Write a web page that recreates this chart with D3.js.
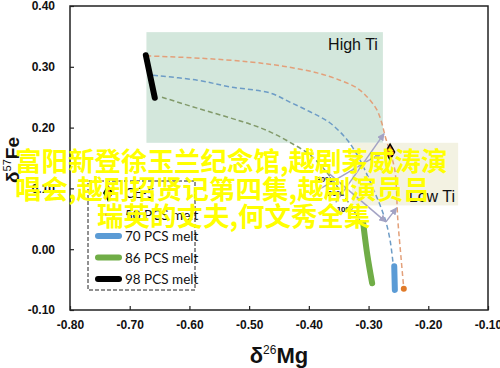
<!DOCTYPE html>
<html><head><meta charset="utf-8">
<script src="https://cdn.jsdelivr.net/npm/d3@7"></script>
<style>html,body{margin:0;padding:0;background:#fff}svg{display:block}</style>
</head><body>
<script>
// ---- data ----
const xTicks = [-0.80, -0.70, -0.60, -0.50, -0.40, -0.30, -0.20, -0.10];
const yTicks = [0.40, 0.30, 0.20, 0.10, 0.00, -0.10];
const highTiBox = [[-0.672, 0.357], [-0.276, 0.175]];
const lowTiBox = [[-0.328, 0.175], [-0.150, 0.072]];
const melt98 = [[-0.673, 0.319], [-0.658, 0.249]];
const melt86 = [[-0.309, 0.043], [-0.302, -0.010], [-0.294, -0.056]];
const melt70 = [[-0.257, -0.028], [-0.256, -0.067]];
const melt50 = [[-0.241, -0.065]];
const ce5 = [[-0.264, 0.160]];
const curve50a = [[-0.672, 0.318], [-0.58, 0.314], [-0.499, 0.308], [-0.443, 0.301], [-0.386, 0.290], [-0.348, 0.278], [-0.319, 0.265], [-0.301, 0.249], [-0.286, 0.229], [-0.278, 0.208], [-0.272, 0.185], [-0.264, 0.160]];
const curve50b = [[-0.264, 0.160], [-0.256, 0.130], [-0.251, 0.048], [-0.246, -0.010], [-0.241, -0.065]];
const curve70 = [[-0.661, 0.286], [-0.587, 0.278], [-0.532, 0.267], [-0.465, 0.257], [-0.432, 0.242], [-0.398, 0.226], [-0.365, 0.208], [-0.336, 0.180], [-0.319, 0.155], [-0.306, 0.130], [-0.293, 0.101], [-0.281, 0.073], [-0.271, 0.045], [-0.264, 0.015], [-0.259, -0.023]];
const curve86 = [[-0.646, 0.250], [-0.587, 0.232], [-0.532, 0.216], [-0.499, 0.206], [-0.465, 0.193], [-0.432, 0.176], [-0.398, 0.155], [-0.373, 0.130], [-0.351, 0.101], [-0.331, 0.073], [-0.311, 0.041]];
const afcLines = [
  [[-0.385, 0.097], [-0.279, 0.158]],
  [[-0.355, 0.077], [-0.274, 0.190]],
  [[-0.373, 0.130], [-0.271, 0.045]],
  [[-0.271, 0.045], [-0.253, 0.068]]
];
const afcLabels = ["30%", "20%", "10%"];
const afcLabelPos = [[-0.374, 0.110], [-0.355, 0.087], [-0.340, 0.062]];
const legendLabels = ["CE-5", "50 PCS melt", "70 PCS melt", "86 PCS melt", "98 PCS melt"];
const legendColors = ["#e07a28", "#e07a28", "#5b9bd5", "#70ad47", "#000000"];
const overlayLines = ["富阳新登徐玉兰纪念馆,越剧茅威涛演", "唱会,越剧招贤记第四集,越剧演员吕", "瑞英的丈夫,何文秀全集"];

// ---- chart ----
const W = 500, H = 368;
const svg = d3.select("body").append("svg").attr("width", W).attr("height", H);
const x = d3.scaleLinear().domain([-0.80, -0.10]).range([70, 488]);
const y = d3.scaleLinear().domain([-0.10, 0.40]).range([310, 6]);

const defs = svg.append("defs");
defs.append("marker").attr("id", "arr").attr("viewBox", "0 0 10 10").attr("refX", 9).attr("refY", 5)
  .attr("markerWidth", 5).attr("markerHeight", 5).attr("orient", "auto")
  .append("path").attr("d", "M0,0L10,5L0,10z").attr("fill", "#a3a3c4");

// boxes
svg.append("rect").attr("x", x(highTiBox[0][0])).attr("y", y(highTiBox[0][1]))
  .attr("width", x(highTiBox[1][0]) - x(highTiBox[0][0])).attr("height", y(highTiBox[1][1]) - y(highTiBox[0][1]))
  .attr("fill", "#d3e7dc");
svg.append("rect").attr("x", x(lowTiBox[0][0])).attr("y", y(lowTiBox[0][1]))
  .attr("width", x(lowTiBox[1][0]) - x(lowTiBox[0][0])).attr("height", y(lowTiBox[1][1]) - y(lowTiBox[0][1]))
  .attr("fill", "#f3f2e2");
svg.append("text").attr("x", x(highTiBox[1][0]) - 5).attr("y", 50).attr("text-anchor", "end")
  .attr("font-family", "Liberation Sans, Arial").attr("font-size", 16).attr("fill", "#111").text("High Ti");
svg.append("text").attr("x", 455).attr("y", 202).attr("text-anchor", "end")
  .attr("font-family", "Liberation Sans, Arial").attr("font-size", 16).attr("fill", "#111").text("Low Ti");

// axes
const fmt = d => d.toFixed(2);
const xa = svg.append("g").attr("transform", "translate(0,310)")
  .call(d3.axisBottom(x).tickValues(xTicks).tickSizeInner(-4).tickSizeOuter(0).tickPadding(10).tickFormat(fmt));
const ya = svg.append("g").attr("transform", "translate(70,0)")
  .call(d3.axisLeft(y).tickValues(yTicks).tickSizeInner(-4).tickSizeOuter(0).tickPadding(15).tickFormat(fmt));
[xa, ya].forEach(g => {
  g.select(".domain").remove();
  g.selectAll("line").attr("stroke", "#222").attr("stroke-width", 1.2);
  g.selectAll("text").attr("font-family", "Liberation Sans, Arial").attr("font-weight", "bold")
    .attr("font-size", 12).attr("fill", "#111");
});
svg.append("rect").attr("x", 70).attr("y", 6).attr("width", 418).attr("height", 304)
  .attr("fill", "none").attr("stroke", "#222").attr("stroke-width", 1.5);

// curves
const line = d3.line().x(d => x(d[0])).y(d => y(d[1])).curve(d3.curveCatmullRom);
const dashed = [[curve50a, "#e3a07a"], [curve50b, "#e3a07a"], [curve70, "#6d9cc6"], [curve86, "#829a6a"]];
dashed.forEach(([pts, c]) => svg.append("path").attr("d", line(pts)).attr("fill", "none")
  .attr("stroke", c).attr("stroke-width", 1.5).attr("stroke-dasharray", "5,3"));

// AFC grey lines
afcLines.forEach(pts => svg.append("path").attr("d", d3.line().x(d => x(d[0])).y(d => y(d[1]))(pts))
  .attr("fill", "none").attr("stroke", "#a3a3c4").attr("stroke-width", 1.5).attr("marker-end", "url(#arr)"));
afcLabels.forEach((t, i) => svg.append("text").attr("x", x(afcLabelPos[i][0])).attr("y", y(afcLabelPos[i][1]))
  .attr("text-anchor", "middle").attr("font-family", "Liberation Sans, Arial").attr("font-weight", "bold")
  .attr("font-size", 8).attr("fill", "#111").text(t));

// melts
const solid = [[melt98, "#000", 6], [melt86, "#70ad47", 6], [melt70, "#5b9bd5", 6]];
solid.forEach(([pts, c, w]) => svg.append("path").attr("d", line(pts)).attr("fill", "none")
  .attr("stroke", c).attr("stroke-width", w).attr("stroke-linecap", "round"));
svg.selectAll(".m50").data(melt50).enter().append("circle").attr("cx", d => x(d[0])).attr("cy", d => y(d[1]))
  .attr("r", 3).attr("fill", "#e07a28");
svg.selectAll(".ce5").data(ce5).enter().append("path")
  .attr("transform", d => `translate(${x(d[0])},${y(d[1])})`)
  .attr("d", d3.symbol(d3.symbolDiamond, 70)).attr("fill", "#e07a28").attr("stroke", "#000").attr("stroke-width", 1.5);

// legend
const lg = svg.append("g");
lg.append("rect").attr("x", 88).attr("y", 181).attr("width", 107).attr("height", 109)
  .attr("fill", "#fff").attr("stroke", "#222").attr("stroke-width", 1).attr("stroke-dasharray", "4,2");
legendLabels.forEach((t, i) => {
  const yy = 193 + i * 21.5;
  if (i === 0) {
    lg.append("path").attr("transform", `translate(108,${yy})`).attr("d", d3.symbol(d3.symbolDiamond, 60))
      .attr("fill", legendColors[i]).attr("stroke", "#000").attr("stroke-width", 1.5);
  } else if (i === 1) {
    lg.append("line").attr("x1", 105).attr("x2", 111).attr("y1", yy).attr("y2", yy)
      .attr("stroke", legendColors[i]).attr("stroke-width", 2.5);
  } else {
    lg.append("line").attr("x1", 98).attr("x2", 119).attr("y1", yy).attr("y2", yy)
      .attr("stroke", legendColors[i]).attr("stroke-width", 6).attr("stroke-linecap", "round");
  }
  lg.append("text").attr("x", 125).attr("y", yy + 5).attr("font-family", "Lato, Open Sans").attr("font-size", 13.5)
    .attr("fill", "#111").text(t);
});

// axis titles
const xt = svg.append("text").attr("x", 279).attr("y", 363).attr("text-anchor", "middle")
  .attr("font-family", "Liberation Sans, Arial").attr("font-weight", "bold").attr("font-size", 22).attr("fill", "#111");
xt.append("tspan").text("δ");
xt.append("tspan").attr("dy", -9).attr("font-size", 12).attr("font-weight", "normal").text("26");
xt.append("tspan").attr("dy", 9).text("Mg");
const yt = svg.append("text").attr("transform", "translate(19,160) rotate(-90)").attr("text-anchor", "middle")
  .attr("font-family", "Liberation Sans, Arial").attr("font-weight", "bold").attr("font-size", 19).attr("fill", "#111");
yt.append("tspan").text("δ");
yt.append("tspan").attr("dy", -8).attr("font-size", 11).attr("font-weight", "normal").text("57");
yt.append("tspan").attr("dy", 8).text("Fe");

// overlay text
const starts = [15, 15, 97], bases = [171, 199, 226];
overlayLines.forEach((t, i) => svg.append("text").attr("x", starts[i]).attr("y", bases[i])
  .attr("font-family", "Noto Sans CJK SC").attr("font-weight", "bold").attr("font-size", 26.5)
  .attr("fill", "#ffff00").text(t));
</script>
</body></html>
